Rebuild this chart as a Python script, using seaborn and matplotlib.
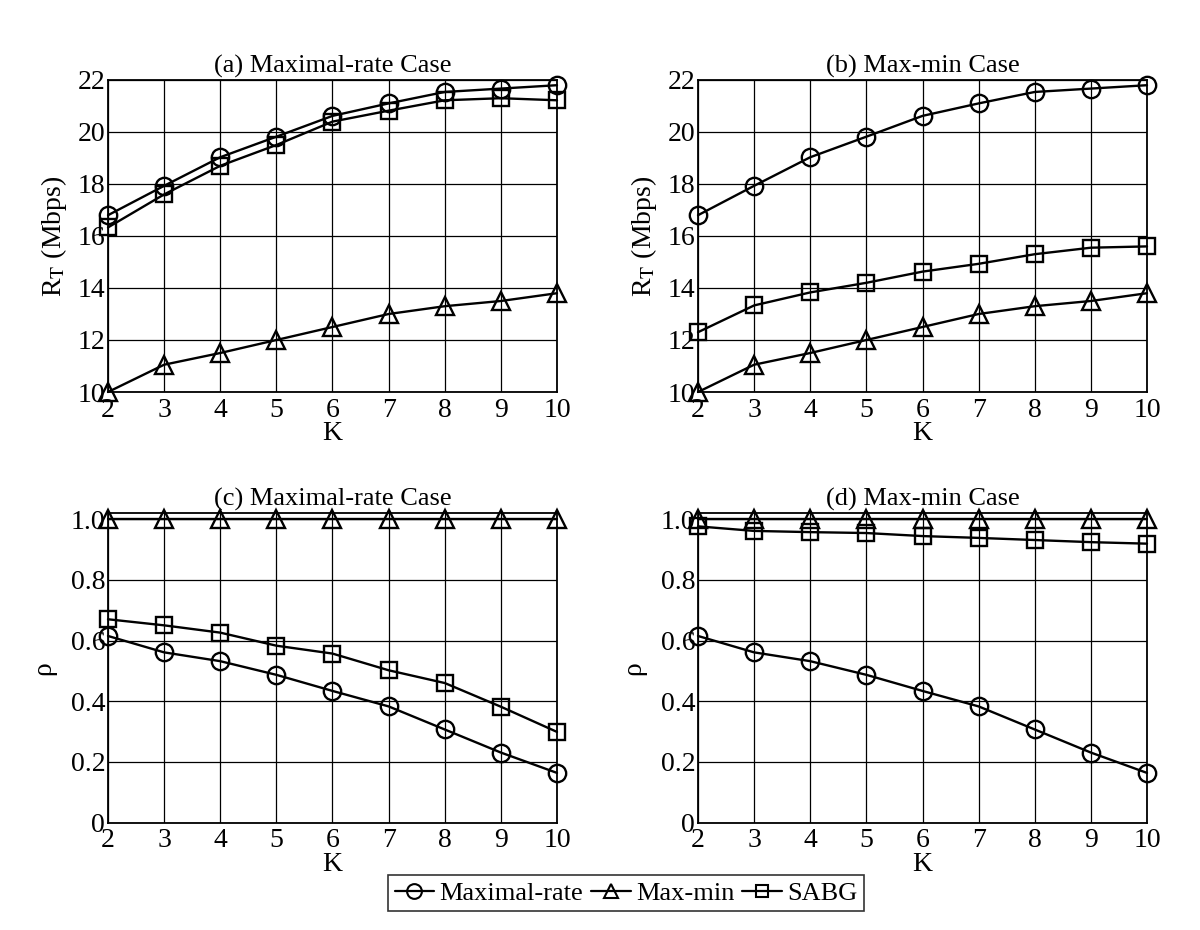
import matplotlib
matplotlib.use("Agg")
import matplotlib.pyplot as plt
import seaborn as sns
import pandas as pd
from matplotlib.lines import Line2D

K = [2, 3, 4, 5, 6, 7, 8, 9, 10]

rate_maxrate = [16.8, 17.93, 19.03, 19.82, 20.62, 21.1, 21.54, 21.67, 21.8]
rate_maxmin = [10.0, 11.05, 11.5, 12.0, 12.5, 13.0, 13.3, 13.5, 13.8]
rate_sabg_a = [16.33, 17.6, 18.7, 19.5, 20.4, 20.82, 21.22, 21.3, 21.22]
rate_sabg_b = [12.3, 13.33, 13.83, 14.2, 14.63, 14.93, 15.3, 15.55, 15.6]

rho_maxrate = [0.615, 0.561, 0.532, 0.487, 0.434, 0.383, 0.307, 0.231, 0.164]
rho_maxmin = [1.0, 1.0, 1.0, 1.0, 1.0, 1.0, 1.0, 1.0, 1.0]
rho_sabg_c = [0.67, 0.65, 0.626, 0.583, 0.557, 0.502, 0.46, 0.382, 0.299]
rho_sabg_d = [0.976, 0.961, 0.957, 0.954, 0.944, 0.938, 0.931, 0.924, 0.919]

titles = ["(a) Maximal-rate Case", "(b) Max-min Case",
          "(c) Maximal-rate Case", "(d) Max-min Case"]
series_names = ["Maximal-rate", "Max-min", "SABG"]
markers = ["o", "^", "s"]

sns.set_style("white")
plt.rcParams["font.family"] = ["Liberation Serif", "DejaVu Serif"]
plt.rcParams["mathtext.fontset"] = "stix"
plt.rcParams["text.color"] = "black"
plt.rcParams["axes.labelcolor"] = "black"
plt.rcParams["xtick.color"] = "black"
plt.rcParams["ytick.color"] = "black"

fig = plt.figure(figsize=(12, 9.3), dpi=100)
W = 449 / 1200
positions = [
    [108 / 1200, 538 / 930, W, 312 / 930],
    [698 / 1200, 538 / 930, W, 312 / 930],
    [108 / 1200, 107.3 / 930, W, 309.7 / 930],
    [698 / 1200, 107.3 / 930, W, 309.7 / 930],
]
axes = [fig.add_axes(p) for p in positions]

panel_data = [
    [rate_maxrate, rate_maxmin, rate_sabg_a],
    [rate_maxrate, rate_maxmin, rate_sabg_b],
    [rho_maxrate, rho_maxmin, rho_sabg_c],
    [rho_maxrate, rho_maxmin, rho_sabg_d],
]

msizes = {"o": 12.5, "^": 12.5, "s": 11}

for i, ax in enumerate(axes):
    for name, vals, m in zip(series_names, panel_data[i], markers):
        df = pd.DataFrame({"K": K, "v": vals})
        sns.lineplot(data=df, x="K", y="v", ax=ax, color="black", lw=1.7,
                     marker=m, markersize=msizes[m], markerfacecolor="none",
                     markeredgecolor="black", markeredgewidth=1.7,
                     clip_on=False, zorder=5)
    ax.set_xlim(2, 10)
    ax.set_xticks(K)
    if i < 2:
        ax.set_ylim(10, 22)
        ax.set_yticks([10, 12, 14, 16, 18, 20, 22])
        ax.set_ylabel(r"R$_\mathrm{T}$ (Mbps)", fontsize=20, labelpad=6)
    else:
        ax.set_ylim(0, 1.02)
        ax.set_yticks([0, 0.2, 0.4, 0.6, 0.8, 1.0])
        ax.set_yticklabels(["0", "0.2", "0.4", "0.6", "0.8", "1.0"])
        ax.set_ylabel("ρ", fontsize=20, labelpad=10)
    ax.set_xlabel("K", fontsize=20, labelpad=-1)
    ax.set_title(titles[i], fontsize=19, pad=5)
    ax.grid(True, color="black", lw=0.9)
    ax.tick_params(axis="x", length=0, labelsize=20, pad=4)
    ax.tick_params(axis="y", length=0, labelsize=20, pad=2)
    for sp in ax.spines.values():
        sp.set_color("black")
        sp.set_linewidth(1.3)

handles = [Line2D([], [], color="black", lw=1.6, marker=m, markersize=msizes[m] * 0.85,
                  markerfacecolor="none", markeredgecolor="black", markeredgewidth=1.5)
           for m in markers]
leg = fig.legend(handles, series_names, loc="center", bbox_to_anchor=(626 / 1200, 1 - 893 / 930),
                 ncol=3, frameon=True, fancybox=False, fontsize=19, handlelength=1.5,
                 handletextpad=0.2, columnspacing=0.3, borderpad=0.25, borderaxespad=0)
leg.get_frame().set_edgecolor("black")
leg.get_frame().set_linewidth(1.2)

fig.savefig("out.png", dpi=100)
